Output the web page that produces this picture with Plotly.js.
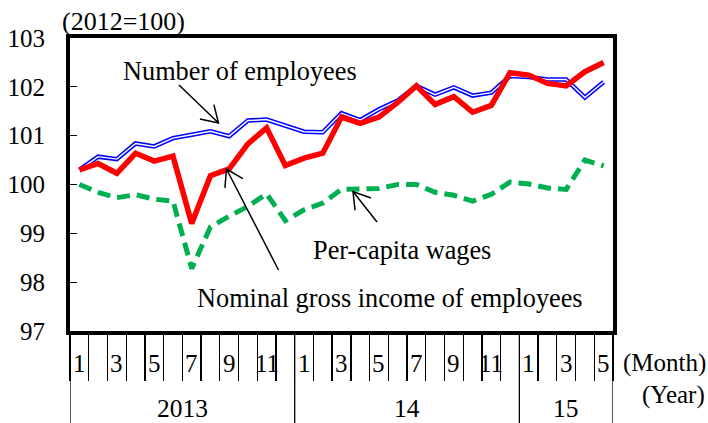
<!DOCTYPE html>
<html><head><meta charset="utf-8">
<script src="https://cdn.plot.ly/plotly-3.0.1.min.js"></script>
<style>html,body{margin:0;padding:0;background:#fff;} #chart{width:708px;height:423px;}</style>
</head><body><div id="chart"></div>
<script>
// ---- data ----
const monthLabels = ['1','','3','','5','','7','','9','','11','',
                     '1','','3','','5','','7','','9','','11','',
                     '1','','3','','5'];
const yearLabels = ['2013','14','15'];
const yearMonthCounts = [12, 12, 5];
const yTickVals = [97, 98, 99, 100, 101, 102, 103];

const employees = [100.30,100.57,100.52,100.84,100.78,100.95,101.02,101.09,100.99,101.31,101.33,101.20,
                   101.08,101.07,101.46,101.32,101.54,101.72,102.02,101.84,101.99,101.82,101.88,102.22,
                   102.20,102.15,102.15,101.78,102.10];
const nominalIncome = [100.30,100.43,100.23,100.64,100.48,100.58,99.20,100.18,100.32,100.83,101.16,100.39,
                       100.54,100.64,101.38,101.25,101.38,101.68,102.02,101.64,101.80,101.48,101.62,102.29,
                       102.24,102.07,102.02,102.31,102.50];
const perCapitaWages = [100.00,99.84,99.73,99.79,99.70,99.66,98.28,99.13,99.35,99.55,99.81,99.26,
                        99.48,99.62,99.90,99.90,99.92,100.00,100.00,99.84,99.78,99.66,99.80,100.05,
                        100.01,99.93,99.90,100.50,100.38];

// ---- geometry helpers ----
const W = 708, H = 423, L = 70, R = 95, T = 38, B = 92;
const pw = W - L - R, ph = H - T - B;
const N = monthLabels.length;
const YMIN = 97, YMAX = 103;
const xc = monthLabels.map((_, i) => i + 0.5);
const FONT = 'Liberation Serif';
const FS = 25;
const FS_LABEL = 26.3;
function X(px) { return (px - L) / pw * N; }
function Y(py) { return YMAX - (py - T) / ph * (YMAX - YMIN); }
function PX(px) { return (px - L) / pw; }
function PY(py) { return 1 - (py - T) / ph; }

function arrowPath(tx, ty, hx, hy) {
  const dx = tx - hx, dy = ty - hy, len = Math.hypot(dx, dy);
  const ux = dx / len, uy = dy / len, a = 32 * Math.PI / 180, s = 19;
  const r = (ang) => [hx + s * (ux * Math.cos(ang) - uy * Math.sin(ang)),
                      hy + s * (ux * Math.sin(ang) + uy * Math.cos(ang))];
  const p1 = r(a), p2 = r(-a);
  const f = (p) => X(p[0]) + ',' + Y(p[1]);
  return 'M' + f([tx, ty]) + ' L' + f([hx, hy]) + ' M' + f(p1) + ' L' + f([hx, hy]) + ' L' + f(p2);
}

// ---- traces ----
const traces = [
  {x: xc, y: perCapitaWages, mode: 'lines', line: {color: '#00B050', width: 5, dash: '13px,7px'}, hoverinfo: 'skip'},
  {x: xc, y: employees, mode: 'lines', line: {color: '#0000FF', width: 4.5}, hoverinfo: 'skip'},
  {x: xc, y: employees, mode: 'lines', line: {color: '#FFFFFF', width: 1.4}, hoverinfo: 'skip'},
  {x: xc, y: nominalIncome, mode: 'lines', line: {color: '#FF0000', width: 5.5}, hoverinfo: 'skip'}
];

// ---- shapes ----
const shapes = [];
let acc = 0;
const yearBounds = [0];
yearMonthCounts.forEach(c => { acc += c; yearBounds.push(acc); });
yearBounds.forEach(b => shapes.push({type: 'line', xref: 'x', yref: 'paper', x0: b, x1: b, y0: 0, y1: PY(424),
  line: {color: '#000', width: 1.3}}));
[[179, 85, 218.5, 123], [278.5, 270, 226.5, 169], [377, 222, 353, 191.5]].forEach(a =>
  shapes.push({type: 'path', xref: 'x', yref: 'y', path: arrowPath(a[0], a[1], a[2], a[3]),
    line: {color: '#000', width: 1.5}}));

// ---- annotations ----
const ann = [];
const txt = (text, x, y, xref, yref, xanchor, size) => ({text, x, y, xref, yref, xanchor: xanchor || 'center',
  yanchor: 'middle', showarrow: false, font: {family: FONT, size: size || FS, color: '#000'}});
monthLabels.forEach((m, i) => { if (m) ann.push(txt(m, xc[i], PY(363), 'x', 'paper')); });
yearLabels.forEach((y, i) => ann.push(txt(y, (yearBounds[i] + yearBounds[i + 1]) / 2, PY(408), 'x', 'paper', 'center', 25.5)));
ann.push(txt('(Month)', PX(621), PY(363), 'paper', 'paper', 'left'));
ann.push(txt('(Year)', PX(640), PY(395), 'paper', 'paper', 'left'));
ann.push(txt('(2012=100)', PX(60), PY(21), 'paper', 'paper', 'left', 26));
ann.push(txt('Number of employees', PX(239.5), PY(71), 'paper', 'paper', 'center', FS_LABEL));
ann.push(txt('Per-capita wages', PX(402), PY(250), 'paper', 'paper', 'center', FS_LABEL));
ann.push(txt('Nominal gross income of employees', PX(390), PY(298), 'paper', 'paper', 'center', FS_LABEL));

const layout = {
  width: W, height: H,
  margin: {l: L, r: R, t: T, b: B, pad: 0},
  paper_bgcolor: '#fff', plot_bgcolor: '#fff',
  showlegend: false,
  font: {family: FONT, size: FS, color: '#000'},
  xaxis: {range: [0, N], showgrid: false, zeroline: false, showline: true, linewidth: 4, linecolor: '#000',
    mirror: true, tickvals: Array.from({length: N + 1}, (_, i) => i), ticks: 'outside',
    ticklen: 46, tickwidth: 1.3, tickcolor: '#000', showticklabels: false, fixedrange: true},
  yaxis: {range: [YMIN, YMAX], tickvals: yTickVals, ticks: 'inside', ticklen: 7, tickwidth: 1.3, tickcolor: '#000',
    showgrid: false, zeroline: false, showline: true, linewidth: 4, linecolor: '#000', mirror: true,
    tickfont: {family: FONT, size: FS, color: '#000'}, ticklabelstandoff: 16, fixedrange: true},
  shapes: shapes,
  annotations: ann
};

Plotly.newPlot('chart', traces, layout, {staticPlot: true, displayModeBar: false});
</script>
</body></html>
